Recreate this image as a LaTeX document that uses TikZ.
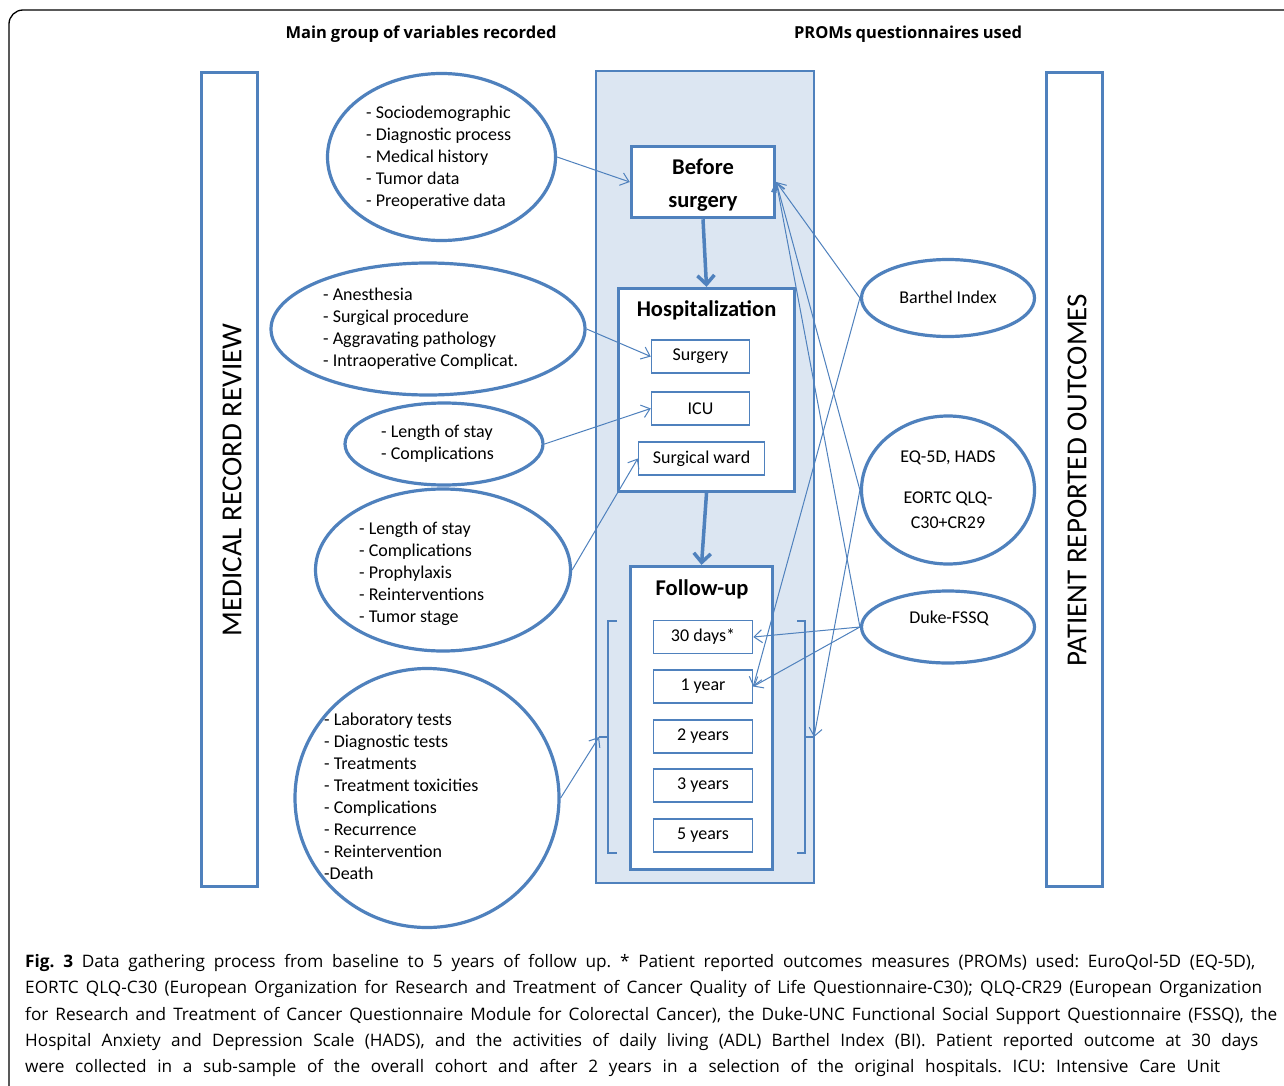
\documentclass[tikz,border=0pt]{standalone}
\usepackage{fontspec}
\setmainfont{Carlito}
\newfontfamily\capfont{Open Sans}
\usetikzlibrary{arrows.meta,shapes.geometric}
\definecolor{obl}{HTML}{4F81BD}
\definecolor{ofill}{HTML}{DCE6F2}
\frenchspacing
\begin{document}
\begin{tikzpicture}[x=1pt,y=-1pt,
  oval/.style={draw=obl, line width=3.2pt, ellipse, inner sep=0pt},
  listtxt/.style={anchor=west, align=left, inner sep=0pt, font=\fontsize{18}{22}\selectfont},
  tallbox/.style={draw=obl, line width=3.5pt, rectangle, inner sep=0pt, minimum width=56pt, minimum height=814pt},
  bigbox/.style={draw=obl, line width=3.2pt, fill=white, rectangle, inner sep=0pt},
  smallbox/.style={draw=obl, line width=1.5pt, fill=white, rectangle, inner sep=0pt, minimum height=33pt, font=\fontsize{18}{20}\selectfont},
  boxtitle/.style={inner sep=0pt, font=\bfseries\fontsize{22.5}{26}\selectfont},
  thinarrow/.style={draw=obl, line width=1pt, -{Straight Barb[length=8pt,width=13pt]}},
  thickarrow/.style={draw=obl, line width=3.5pt, -{Straight Barb[length=9pt,width=17pt]}},
  brk/.style={draw=obl, line width=2.5pt},
  header/.style={inner sep=0pt, font=\capfont\bfseries\fontsize{16.5}{20}\selectfont},
  caption/.style={anchor=base west, inner sep=0pt, font=\capfont\fontsize{17.2}{22}\selectfont}
]
\useasboundingbox (0,0) rectangle (1284,1086);
\clip (0,0) rectangle (1284,1086);
\fill[white] (0,0) rectangle (1284,1086);

% outer frame
\draw[black, line width=1.3pt, rounded corners=14pt] (9,10) rectangle (1310,1110);

% headers
\node[header] (h1) at (421,34) {\makebox[271pt][s]{Main group of variables recorded}};
\node[header] (h2) at (908,34) {\makebox[228pt][s]{PROMs questionnaires used}};

% tall side boxes
\node[tallbox] (mrr) at (229.5,479.5) {};
\node[rotate=90, inner sep=0pt, font=\fontsize{29}{32}\selectfont] (mrrt) at (232,480) {MEDICAL RECORD REVIEW};
\node[tallbox] (pro) at (1074.5,479.5) {};
\node[rotate=90, inner sep=0pt, font=\fontsize{29}{32}\selectfont] (prot) at (1077,480) {PATIENT REPORTED OUTCOMES};

% central shaded panel
\node[draw=obl, fill=ofill, line width=1.3pt, rectangle, inner sep=0pt, minimum width=218pt, minimum height=812pt] (panel) at (705,477) {};

% before surgery
\node[bigbox, line width=3.5pt, minimum width=143pt, minimum height=71pt] (before) at (703,182) {};
\node[inner sep=0pt, align=center, font=\bfseries\fontsize{22.5}{33}\selectfont] (beforet) at (703,185) {Before\\surgery};

% hospitalization
\node[bigbox, minimum width=176pt, minimum height=203pt] (hosp) at (706.5,390) {};
\node[boxtitle] (hospt) at (706.5,310) {Hospitalization};
\node[smallbox, minimum width=98pt] (surg) at (700.5,356.5) {Surgery};
\node[smallbox, minimum width=98pt] (icu) at (700.5,408.5) {ICU};
\node[smallbox, minimum width=126pt] (ward) at (701.5,458.5) {Surgical ward};

% follow-up
\node[bigbox, minimum width=142pt, minimum height=303pt] (follow) at (701.5,718) {};
\node[boxtitle] (followt) at (702,589) {Follow-up};
\node[smallbox, minimum width=99pt] (d30) at (703,637) {30 days*};
\node[smallbox, minimum width=99pt] (y1) at (703,686.5) {1 year};
\node[smallbox, minimum width=99pt] (y2) at (703,736.5) {2 years};
\node[smallbox, minimum width=99pt] (y3) at (703,785.5) {3 years};
\node[smallbox, minimum width=99pt] (y5) at (703,835.5) {5 years};

% brackets
\coordinate (lb) at (599,737);
\coordinate (rb) at (814,737);
\draw[brk] (617,621) -- (608,621) -- (608,853) -- (617,853);
\draw[brk] (608,737) -- (lb);
\draw[brk] (797,621) -- (805,621) -- (805,853) -- (797,853);
\draw[brk] (805,737) -- (rb);

% thick arrows
\draw[thickarrow] (before.south) -- (hosp.north);
\draw[thickarrow] (hosp.south) -- (follow.north);

% left ellipses
\node[oval, minimum width=228pt, minimum height=167pt] (e1) at (441.5,157) {};
\node[listtxt] (e1t) at (366,158) {- Sociodemographic\\- Diagnostic process\\- Medical history\\- Tumor data\\- Preoperative data};
\node[oval, minimum width=314pt, minimum height=132pt] (e2) at (428,329) {};
\node[listtxt] (e2t) at (323,329) {- Anesthesia\\- Surgical procedure\\- Aggravating pathology\\- Intraoperative Complicat.};
\node[oval, minimum width=198pt, minimum height=82pt] (e3) at (444,444) {};
\node[listtxt] (e3t) at (381,444) {- Length of stay\\- Complications};
\node[oval, minimum width=255pt, minimum height=162pt] (e4) at (443,570) {};
\node[listtxt] (e4t) at (359,574) {- Length of stay\\- Complications\\- Prophylaxis\\- Reinterventions\\- Tumor stage};
\node[oval, minimum width=264pt, minimum height=259pt] (e5) at (427,798) {};
\node[listtxt] (e5t) at (324,796) {- Laboratory tests\\- Diagnostic tests\\- Treatments\\- Treatment toxicities\\- Complications\\- Recurrence\\- Reintervention\\-Death};

% right ellipses
\node[oval, minimum width=173pt, minimum height=77pt] (bi) at (948,298) {};
\node[inner sep=0pt, font=\fontsize{18}{20}\selectfont] (bit) at (948,297) {Barthel Index};
\node[oval, minimum width=173pt, minimum height=148pt] (eq) at (948,490) {};
\node[inner sep=0pt, align=center, font=\fontsize{18}{25}\selectfont] (eqt) at (948,490) {EQ-5D, HADS\\[16pt]EORTC QLQ-\\C30+CR29};
\node[oval, minimum width=173pt, minimum height=72pt] (duke) at (948,627) {};
\node[inner sep=0pt, font=\fontsize{18}{20}\selectfont] (duket) at (949,618) {Duke-FSSQ};

% left connectors
\draw[thinarrow] (e1.east) -- (before.west);
\draw[thinarrow] (e2.east) -- (surg.west);
\draw[thinarrow] (e3.east) -- (icu.west);
\draw[thinarrow] (e4.east) -- (ward.west);
\draw[thinarrow] (e5.east) -- (lb);

% right connectors
\draw[thinarrow] (bi.west) -- (before.east);
\draw[thinarrow] (eq.west) -- (before.east);
\draw[thinarrow] (duke.west) -- (before.east);
\draw[thinarrow] (bi.west) -- (y1.east);
\draw[thinarrow] (eq.west) -- (rb);
\draw[thinarrow] (duke.west) -- (d30.east);
\draw[thinarrow] (duke.west) -- (y1.east);

% caption
\node[caption] (c1) at (25,967) {\makebox[1230pt][s]{{\bfseries Fig. 3} Data gathering process from baseline to 5 years of follow up. * Patient reported outcomes measures (PROMs) used: EuroQol-5D (EQ-5D),}};
\node[caption] (c2) at (25,993) {\makebox[1237pt][s]{EORTC QLQ-C30 (European Organization for Research and Treatment of Cancer Quality of Life Questionnaire-C30); QLQ-CR29 (European Organization}};
\node[caption] (c3) at (25,1020) {\makebox[1252pt][s]{for Research and Treatment of Cancer Questionnaire Module for Colorectal Cancer), the Duke-UNC Functional Social Support Questionnaire (FSSQ), the}};
\node[caption] (c4) at (25,1046) {\makebox[1233pt][s]{Hospital Anxiety and Depression Scale (HADS), and the activities of daily living (ADL) Barthel Index (BI). Patient reported outcome at 30 days}};
\node[caption] (c5) at (25,1072) {\makebox[1195pt][s]{were collected in a sub-sample of the overall cohort and after 2 years in a selection of the original hospitals. ICU: Intensive Care Unit}};
\end{tikzpicture}
\end{document}
